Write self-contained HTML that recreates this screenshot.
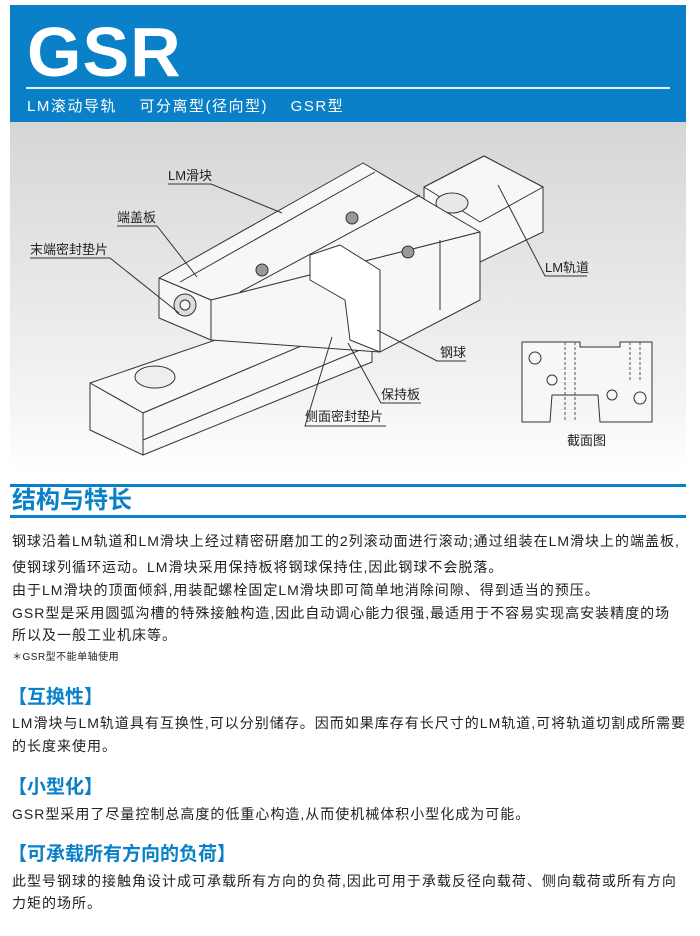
<!DOCTYPE html>
<html><head><meta charset="utf-8"><style>
*{margin:0;padding:0;box-sizing:border-box}
body{width:700px;height:936px;background:#fff;position:relative;overflow:hidden;font-family:"Liberation Sans","Noto Sans CJK SC",sans-serif;color:#222}
.abs{position:absolute;white-space:nowrap}
.hdr{left:10px;top:5px;width:676px;height:117px;background:#0a80c8}
.gsr{left:27px;top:12px;font-size:70px;font-weight:bold;color:#fff;line-height:80px;letter-spacing:1px}
.hline{left:26px;top:87px;width:644px;height:2px;background:#e8f2fa}
.sub{left:27px;top:96px;font-size:15px;color:#fff;line-height:22px;letter-spacing:1.5px}
.diag{left:10px;top:122px;width:676px;height:350px;background:linear-gradient(#d6d6d6,#f4f4f4 80%,#fff)}
.bl{left:10px;width:676px;height:3px;background:#0a80c8}
.h2{left:12px;top:486px;font-size:24px;color:#0a80c8;font-weight:bold;line-height:30px}
.t{left:12px;font-size:14px;line-height:20px;color:#222;letter-spacing:1px}
.h3{left:8px;font-size:19px;font-weight:bold;color:#0a80c8;line-height:24px}
</style></head><body>
<div class="abs hdr"></div>
<div class="abs gsr">GSR</div>
<div class="abs hline"></div>
<div class="abs sub">LM滚动导轨&nbsp;&nbsp;&nbsp;&nbsp;可分离型(径向型)&nbsp;&nbsp;&nbsp;&nbsp;GSR型</div>
<div class="abs diag"></div>
<svg class="abs" style="left:0;top:0" width="700" height="480" viewBox="0 0 700 480">
<g stroke="#333" stroke-width="1" fill="#f7f7f7" stroke-linejoin="round">
<polygon points="424,187 484,156 543,187 543,232 480,262 424,230"/>
<polygon points="424,187 484,156 543,187 480,222"/>
<ellipse cx="452" cy="203" rx="16" ry="10" fill="#e8e8e8"/>
<polygon points="90,383 341,297 372,316 143,413"/>
<polygon points="143,413 372,316 372,362 143,455"/>
<polygon points="90,383 143,413 143,455 90,430"/>
<line x1="143" y1="440" x2="372" y2="345"/>
<ellipse cx="155" cy="377" rx="20" ry="11" fill="#eee"/>
<polygon points="159,278 363,163 480,232 211,300"/>
<polygon points="211,300 480,232 480,300 380,352 211,340"/>
<polygon points="159,278 211,300 211,340 159,318"/>
<polygon points="310,255 340,245 380,270 380,352 350,340 345,300 310,280" fill="#fff"/>
<line x1="240" y1="292" x2="420" y2="195"/>
<line x1="180" y1="282" x2="375" y2="172"/>
<line x1="440" y1="240" x2="440" y2="310"/>
<circle cx="185" cy="305" r="11" fill="#ddd"/><circle cx="185" cy="305" r="5"/>
<circle cx="352" cy="218" r="6" fill="#999"/>
<circle cx="408" cy="252" r="6" fill="#999"/>
<circle cx="262" cy="270" r="6" fill="#999"/>
<polygon points="522,342 580,342 580,347 620,347 620,342 652,342 652,422 600,422 598,395 552,395 550,422 522,422" fill="#f7f7f7"/>
<circle cx="535" cy="358" r="6" fill="none"/><circle cx="640" cy="398" r="6" fill="none"/>
<circle cx="552" cy="380" r="5" fill="none"/><circle cx="612" cy="395" r="5" fill="none"/>
</g>
<g stroke="#555" stroke-width="1" stroke-dasharray="3,2" fill="none">
<line x1="565" y1="342" x2="565" y2="420"/><line x1="575" y1="342" x2="575" y2="420"/>
<line x1="630" y1="342" x2="630" y2="380"/><line x1="640" y1="342" x2="640" y2="380"/>
</g>
<g stroke="#333" stroke-width="1" fill="none">
<polyline points="168,184 211,184 282,213"/>
<polyline points="117,226 157,226 197,277"/>
<polyline points="30,258 110,258 179,313"/>
<polyline points="587,276 545,276 498,185"/>
<polyline points="466,361 437,361 377,330"/>
<polyline points="421,403 381,403 348,343"/>
<polyline points="386,426 305,426 332,337"/>
</g>
<g font-size="13" fill="#222" font-family="Liberation Sans,Noto Sans CJK SC,sans-serif">
<text x="168" y="180">LM滑块</text>
<text x="117" y="222">端盖板</text>
<text x="30" y="254">末端密封垫片</text>
<text x="545" y="272">LM轨道</text>
<text x="440" y="357">钢球</text>
<text x="381" y="399">保持板</text>
<text x="305" y="421">侧面密封垫片</text>
<text x="567" y="445">截面图</text>
</g>
</svg>
<div class="abs bl" style="top:484px"></div>
<div class="abs h2">结构与特长</div>
<div class="abs bl" style="top:515px"></div>
<div class="abs t" style="top:531px">钢球沿着LM轨道和LM滑块上经过精密研磨加工的2列滚动面进行滚动;通过组装在LM滑块上的端盖板,</div>
<div class="abs t" style="top:557px">使钢球列循环运动。LM滑块采用保持板将钢球保持住,因此钢球不会脱落。</div>
<div class="abs t" style="top:580px">由于LM滑块的顶面倾斜,用装配螺栓固定LM滑块即可简单地消除间隙、得到适当的预压。</div>
<div class="abs t" style="top:603px">GSR型是采用圆弧沟槽的特殊接触构造,因此自动调心能力很强,最适用于不容易实现高安装精度的场</div>
<div class="abs t" style="top:625px">所以及一般工业机床等。</div>
<div class="abs t" style="top:650px;font-size:10px;line-height:16px;letter-spacing:0.5px">＊GSR型不能单轴使用</div>
<div class="abs h3" style="top:686px">【互换性】</div>
<div class="abs t" style="top:713px">LM滑块与LM轨道具有互换性,可以分别储存。因而如果库存有长尺寸的LM轨道,可将轨道切割成所需要</div>
<div class="abs t" style="top:736px">的长度来使用。</div>
<div class="abs h3" style="top:776px">【小型化】</div>
<div class="abs t" style="top:804px">GSR型采用了尽量控制总高度的低重心构造,从而使机械体积小型化成为可能。</div>
<div class="abs h3" style="top:843px">【可承载所有方向的负荷】</div>
<div class="abs t" style="top:871px">此型号钢球的接触角设计成可承载所有方向的负荷,因此可用于承载反径向载荷、侧向载荷或所有方向</div>
<div class="abs t" style="top:893px">力矩的场所。</div>
</body></html>
